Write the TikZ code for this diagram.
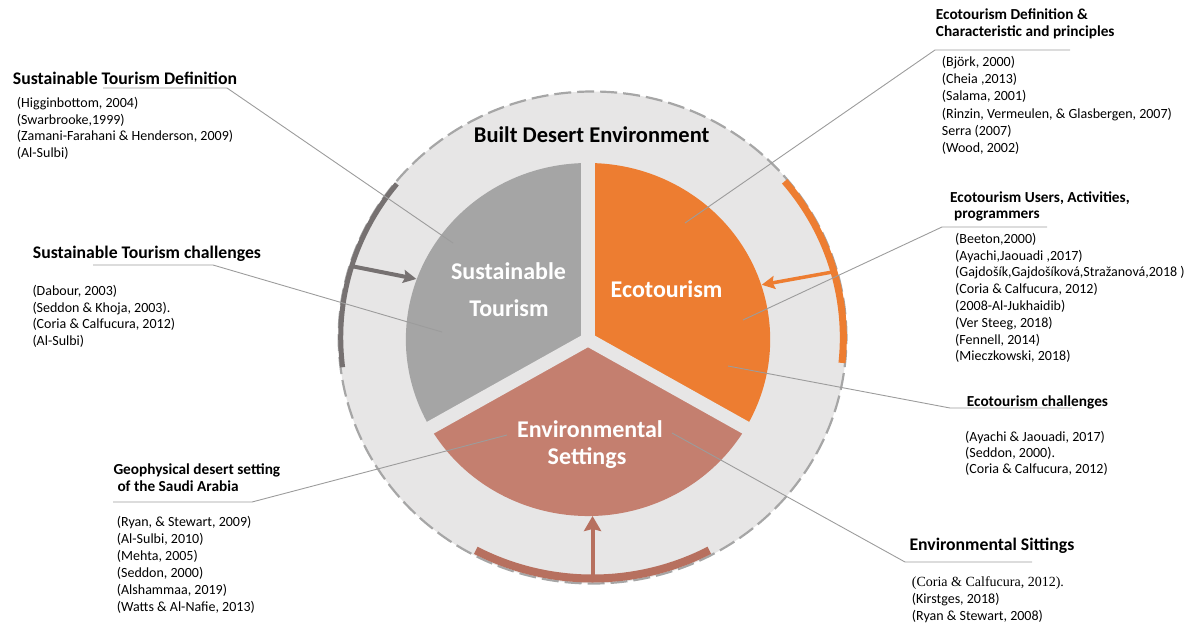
\documentclass[tikz,border=0pt]{standalone}
\usepackage{fontspec}
\setmainfont{Carlito}
\newfontfamily\timesfont{Liberation Serif}
\usetikzlibrary{arrows.meta}

\definecolor{ringfill}{HTML}{E7E6E6}
\definecolor{ringedge}{HTML}{A6A6A6}
\definecolor{stgray}{HTML}{A5A5A5}
\definecolor{ecoorange}{HTML}{ED7D31}
\definecolor{envbrown}{HTML}{C47F6F}
\definecolor{bargray}{HTML}{767171}
\definecolor{barbrown}{HTML}{B7705F}
\definecolor{leadergray}{HTML}{9C9C9C}

% one reference per line: prefix, x, first baseline, line step, items
\newcommand\reflines[5]{%
  \foreach \t [count=\i] in {#5}{%
    \node[reftext] (#1\i) at (#2,{-(#3)-(\i-1)*(#4)}) {\t};}}

\begin{document}
\begin{tikzpicture}[x=1pt,y=1pt,
  reftext/.style={font=\fontsize{14}{17}\selectfont, anchor=base west, inner sep=0pt},
  headbig/.style={font=\fontsize{17.7}{21}\selectfont\bfseries, anchor=base west, inner sep=0pt},
  headsmall/.style={font=\fontsize{15.3}{18}\selectfont\bfseries, anchor=base west, inner sep=0pt},
  seclabel/.style={font=\fontsize{24}{29}\selectfont\bfseries, text=white, anchor=base, inner sep=0pt},
  leader/.style={draw=leadergray, line width=0.9pt},
  gaps/.style={draw=ringfill, line width=13.5pt, line cap=round},
  grayarrow/.style={draw=bargray, line width=4pt, -{Stealth[length=13pt, width=13pt, inset=2pt]}},
  orangearrow/.style={draw=ecoorange, line width=3.5pt, -{Stealth[length=13pt, width=13pt, inset=2pt]}},
  brownarrow/.style={draw=barbrown, line width=4pt, -{Stealth[length=15pt, width=17pt, inset=2pt]}}]

\useasboundingbox (0,0) rectangle (1196,-629);

% ---- the ring and the three sectors ----
\begin{scope}[shift={(588,-339.5)}, xscale=1.032]
  \begin{scope}[shift={(4.4,2)}]
    \fill[ringfill] (0,0) circle[radius=246pt];
    \draw[ringedge, line width=2.2pt, dash pattern=on 17pt off 6pt] (0,0) circle[radius=246pt];
  \end{scope}

  \fill[stgray] (0,0) -- (90:176.5) arc[start angle=90, end angle=210, radius=176.5pt] -- cycle;
  \fill[ecoorange] (0,0) -- (-30:176.5) arc[start angle=-30, end angle=90, radius=176.5pt] -- cycle;
  \fill[envbrown] (0,0) -- (210:176.5) arc[start angle=210, end angle=330, radius=176.5pt] -- cycle;
  \draw[gaps] (0,0) -- (90:182);
  \draw[gaps] (0,0) -- (210:182);
  \draw[gaps] (0,0) -- (330:182);

  \begin{scope}[shift={(4.4,2)}]
    \draw[bargray, line width=5pt] (141:244) arc[start angle=141, end angle=187, radius=244pt];
    \draw[ecoorange, line width=7pt] (-6:243) arc[start angle=-6, end angle=40, radius=243pt];
    \draw[barbrown, line width=8pt] (242:241) arc[start angle=242, end angle=298, radius=241pt];
    \coordinate (gstart) at (163:244);
    \coordinate (ostart) at (15.7:243);
    \coordinate (bstart) at (270:241);
  \end{scope}
  \coordinate (gtip) at (160:177);
  \coordinate (otip) at (18:177);
  \coordinate (btip) at (4.4,-176.5);
\end{scope}

\draw[grayarrow] (gstart) -- (gtip);
\draw[orangearrow] (ostart) -- (otip);
\draw[brownarrow] (bstart) -- (btip);

% ---- leader lines from the sectors to the notes ----
\coordinate (p1) at (453,-243);  \coordinate (k1) at (227,-88);   \coordinate (e1) at (103,-88);
\coordinate (p2) at (442,-332);  \coordinate (k2) at (213,-265);  \coordinate (e2) at (93,-265);
\coordinate (p3) at (685,-223);  \coordinate (k3) at (935,-50);   \coordinate (e3) at (1070,-50);
\coordinate (p4) at (743,-320);  \coordinate (k4) at (942,-227);  \coordinate (e4) at (1047,-227);
\coordinate (p5) at (728,-366);  \coordinate (k5) at (950,-408);  \coordinate (e5) at (1072,-408);
\coordinate (p6) at (672,-433);  \coordinate (k6) at (905,-562);  \coordinate (e6) at (1032,-562);
\coordinate (p7) at (507,-435);  \coordinate (k7) at (252,-502);  \coordinate (e7) at (113,-502);
\foreach \n in {1,...,7} {\draw[leader] (p\n) -- (k\n) -- (e\n);}

% ---- labels inside the ring ----
\node[font=\fontsize{22.5}{27}\selectfont\bfseries, anchor=base, inner sep=0pt] (bde) at (591.7,-142.7) {Built Desert Environment};
\node[seclabel] (st1) at (508.5,-279) {Sustainable};
\node[seclabel] (st2) at (509,-316) {Tourism};
\node[seclabel] (eco) at (666.5,-297) {Ecotourism};
\node[seclabel] (env1) at (590,-437.3) {Environmental};
\node[seclabel] (env2) at (587,-464) {Settings};

% ---- notes ----
\node[headbig] (h1) at (12.7,-84) {Sustainable Tourism Definition};
\reflines{ra}{16.7}{107.3}{16.8}{{(Higginbottom, 2004)},{(Swarbrooke,1999)},{(Zamani-Farahani \& Henderson, 2009)},{(Al-Sulbi)}}

\node[headbig] (h2) at (32.7,-258.3) {Sustainable Tourism challenges};
\reflines{rb}{32.3}{295.7}{16.6}{{(Dabour, 2003)},{(Seddon \& Khoja, 2003).},{(Coria \& Calfucura, 2012)},{(Al-Sulbi)}}

\node[headsmall] (h3a) at (935.7,-19.3) {Ecotourism Definition \&};
\node[headsmall] (h3b) at (935.7,-36.7) {Characteristic and principles};
\reflines{rc}{941.7}{66.7}{17.1}{{(Björk, 2000)},{(Cheia ,2013)},{(Salama, 2001)},{(Rinzin, Vermeulen, \& Glasbergen, 2007)},{Serra (2007)},{(Wood, 2002)}}

\node[headsmall] (h4a) at (950,-202.7) {Ecotourism Users, Activities,};
\node[headsmall] (h4b) at (954,-218) {programmers};
\reflines{rd}{955}{243.3}{16.8}{{(Beeton,2000)},{(Ayachi,Jaouadi ,2017)},{(Gajdošík,Gajdošíková,Stražanová,2018 )},{(Coria \& Calfucura, 2012)},{(2008-Al-Jukhaidib)},{(Ver Steeg, 2018)},{(Fennell, 2014)},{(Mieczkowski, 2018)}}

\node[headsmall] (h5) at (966.7,-406) {Ecotourism challenges};
\reflines{re}{965}{441}{16.2}{{(Ayachi \& Jaouadi, 2017)},{(Seddon, 2000).},{(Coria \& Calfucura, 2012)}}

\node[headbig] (h6) at (909.3,-550) {Environmental Sittings};
\node[reftext, font=\fontsize{14}{17}\timesfont] (rf1) at (911.7,-586.7) {(Coria \& Calfucura, 2012).};
\node[reftext] (rf2) at (911.7,-603.4) {(Kirstges, 2018)};
\node[reftext] (rf3) at (911.7,-620) {(Ryan \& Stewart, 2008)};

\node[headsmall] (h7a) at (113.3,-474) {Geophysical desert setting};
\node[headsmall] (h7b) at (117.3,-491.7) {of the Saudi Arabia};
\reflines{rg}{116.7}{526}{17.1}{{(Ryan, \& Stewart, 2009)},{(Al-Sulbi, 2010)},{(Mehta, 2005)},{(Seddon, 2000)},{(Alshammaa, 2019)},{(Watts \& Al-Nafie, 2013)}}

\end{tikzpicture}
\end{document}
